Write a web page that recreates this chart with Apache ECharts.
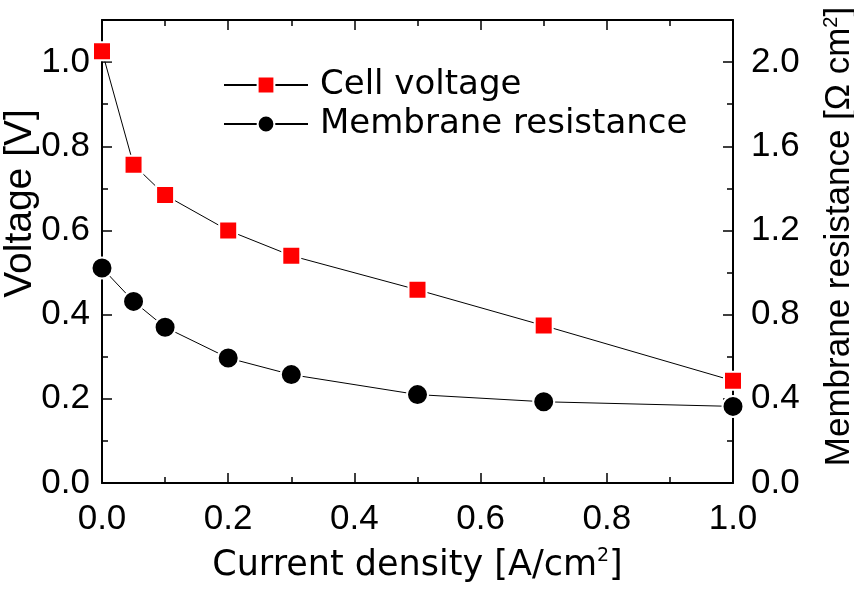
<!DOCTYPE html>
<html>
<head>
<meta charset="UTF-8">
<title>Cell voltage and membrane resistance</title>
<script src="https://cdn.jsdelivr.net/npm/echarts@6/dist/echarts.min.js"></script>
<style>
  body { margin: 0; background: #fff; }
  #main { width: 854px; height: 589px; }
</style>
</head>
<body>
<div id="main"></div>
<script>
// data
var currentDensity = [0, 0.05, 0.1, 0.2, 0.3, 0.5, 0.7, 1.0];
var cellVoltage = [1.026, 0.756, 0.684, 0.600, 0.540, 0.459, 0.374, 0.243];
var membraneResistance = [1.022, 0.863, 0.740, 0.594, 0.515, 0.420, 0.386, 0.364];

function pairs(xs, ys) {
  return xs.map(function (x, i) { return [x, ys[i]]; });
}

var font = '"Liberation Sans", Arial, sans-serif';
var wide = '"DejaVu Sans", sans-serif';

var chart = echarts.init(document.getElementById('main'));

function fmt(v) { return v.toFixed(1); }

function tickAxis(extra) {
  return Object.assign({
    axisLine: { onZero: false, lineStyle: { color: '#000', width: 2 } },
    axisTick: { inside: true, length: 10, lineStyle: { color: '#000', width: 1.5 } },
    minorTick: { show: true, splitNumber: 2, length: 6, lineStyle: { color: '#000', width: 1.5 } },
    splitLine: { show: false }
  }, extra);
}

chart.setOption({
  animation: false,
  backgroundColor: '#fff',
  grid: { left: 102, right: 121, top: 20, bottom: 106, containLabel: false, outerBoundsMode: 'none' },
  legend: {
    left: 218, top: 63,
    orient: 'vertical',
    itemWidth: 84, itemHeight: 21, itemGap: 5,
    textStyle: { fontSize: 34, fontFamily: wide, color: '#000', padding: [0, 0, 0, 7] },
    data: ['Cell voltage', 'Membrane resistance']
  },
  xAxis: [
    tickAxis({
      type: 'value', min: 0, max: 1, interval: 0.2, position: 'bottom',
      axisLabel: { color: '#000', fontSize: 35, fontFamily: font, margin: 19, formatter: fmt },
      name: '{a|Current density [A/cm}{s|2}{a|]}',
      nameLocation: 'middle', nameGap: 64,
      nameTextStyle: { rich: {
        a: { fontSize: 35, fontFamily: wide, color: '#000' },
        s: { fontSize: 19, fontFamily: wide, color: '#000', verticalAlign: 'top', padding: [0, 0, 18, 0] }
      } }
    }),
    tickAxis({
      type: 'value', min: 0, max: 1, interval: 0.2, position: 'top',
      axisLabel: { show: false }
    })
  ],
  yAxis: [
    tickAxis({
      type: 'value', min: 0, max: 1.1, interval: 0.2, position: 'left',
      axisLabel: { color: '#000', fontSize: 35, fontFamily: font, margin: 12,
        showMaxLabel: false, formatter: fmt },
      name: 'Voltage [V]',
      nameLocation: 'middle', nameGap: 62, nameRotate: 90, nameMoveOverlap: false,
      nameTextStyle: { fontSize: 39, fontFamily: font, color: '#000', padding: [0, 0, 0, 96] }
    }),
    tickAxis({
      type: 'value', min: 0, max: 2.2, interval: 0.4, position: 'right',
      axisLabel: { color: '#000', fontSize: 35, fontFamily: font, margin: 18,
        showMaxLabel: false, formatter: fmt },
      name: '{a|Membrane resistance [Ω cm}{s|2}{a|]}',
      nameLocation: 'middle', nameGap: 88, nameRotate: 90,
      nameTextStyle: { padding: [0, 0, 0, 30], rich: {
        a: { fontSize: 35, fontFamily: font, color: '#000' },
        s: { fontSize: 20, fontFamily: font, color: '#000', verticalAlign: 'top', padding: [0, 0, 16, 0] }
      } }
    })
  ],
  series: [
    {
      name: 'Cell voltage', type: 'line', xAxisIndex: 0, yAxisIndex: 0,
      data: pairs(currentDensity, cellVoltage),
      symbol: 'rect', symbolSize: 18,
      itemStyle: { color: '#ff0000', borderColor: '#fff', borderWidth: 2 },
      lineStyle: { color: '#000', width: 1 },
      clip: false
    },
    {
      name: 'Membrane resistance', type: 'line', xAxisIndex: 0, yAxisIndex: 1,
      data: pairs(currentDensity, membraneResistance),
      symbol: 'circle', symbolSize: 21,
      itemStyle: { color: '#000', borderColor: '#fff', borderWidth: 2 },
      lineStyle: { color: '#000', width: 1 },
      clip: false
    }
  ]
});
</script>
</body>
</html>
